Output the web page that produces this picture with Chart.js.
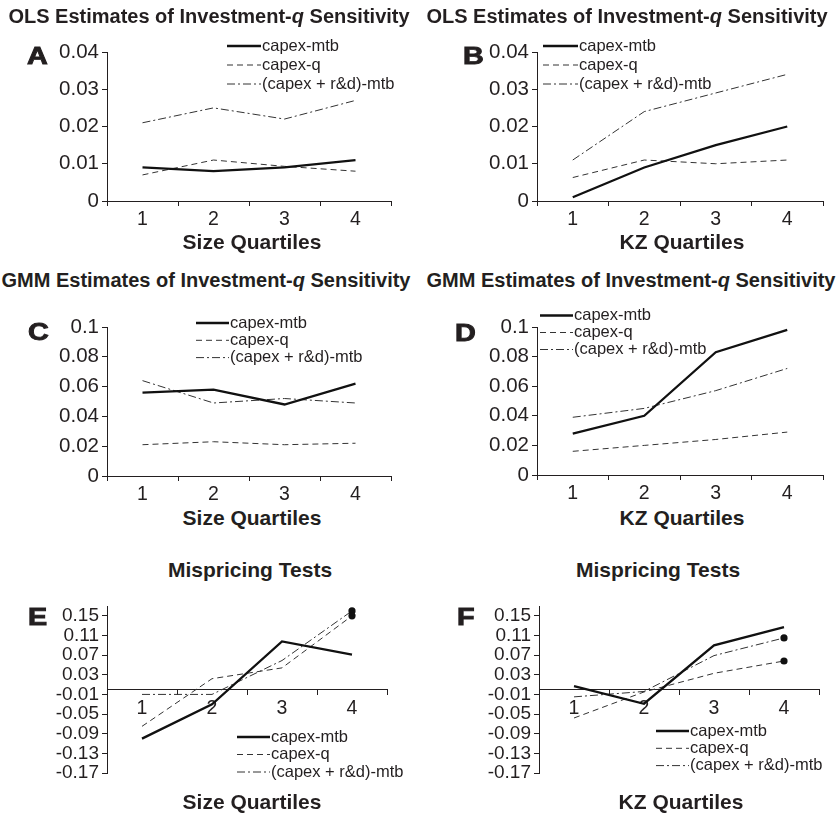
<!DOCTYPE html>
<html>
<head>
<meta charset="utf-8">
<script src="https://cdn.jsdelivr.net/npm/chart.js@4.4.1/dist/chart.umd.min.js"></script>
<style>
  html, body { margin: 0; padding: 0; background: #fff; }
  body { width: 840px; height: 813px; position: relative; overflow: hidden;
         font-family: "Liberation Sans", Arial, sans-serif; color: #231f20; }
  canvas { position: absolute; }
  .txt { position: absolute; white-space: nowrap; line-height: 1; transform: translate(-50%, -50%); }
  .ttl { font-weight: bold; font-size: 20px; }
  .axt { font-weight: bold; font-size: 21px; }
  .let { position: absolute; white-space: nowrap; line-height: 1; font-weight: bold; font-size: 23px;
         -webkit-text-stroke: 0.9px #231f20;
         transform: translate(0, -50%) scaleX(1.25); transform-origin: left center; }
</style>
</head>
<body>

<canvas id="cA" width="420" height="210" style="left:0;top:25px"></canvas>
<canvas id="cB" width="420" height="210" style="left:420px;top:25px"></canvas>
<canvas id="cC" width="420" height="205" style="left:0;top:300px"></canvas>
<canvas id="cD" width="420" height="205" style="left:420px;top:300px"></canvas>
<canvas id="cE" width="420" height="200" style="left:0;top:590px"></canvas>
<canvas id="cF" width="420" height="200" style="left:420px;top:590px"></canvas>

<!-- titles -->
<div class="txt ttl" style="left:209px;top:16px">OLS Estimates of Investment-<i>q</i> Sensitivity</div>
<div class="txt ttl" style="left:627px;top:16px">OLS Estimates of Investment-<i>q</i> Sensitivity</div>
<div class="txt ttl" style="left:206px;top:280px">GMM Estimates of Investment-<i>q</i> Sensitivity</div>
<div class="txt ttl" style="left:631px;top:280px">GMM Estimates of Investment-<i>q</i> Sensitivity</div>
<div class="txt axt" style="left:250px;top:569px">Mispricing Tests</div>
<div class="txt axt" style="left:658px;top:569px">Mispricing Tests</div>

<!-- axis titles -->
<div class="txt axt" style="left:252px;top:241px">Size Quartiles</div>
<div class="txt axt" style="left:682px;top:241px">KZ Quartiles</div>
<div class="txt axt" style="left:252px;top:517px">Size Quartiles</div>
<div class="txt axt" style="left:682px;top:517px">KZ Quartiles</div>
<div class="txt axt" style="left:252px;top:801px">Size Quartiles</div>
<div class="txt axt" style="left:681px;top:801px">KZ Quartiles</div>

<!-- panel letters -->
<div class="let" style="left:27px;top:56px">A</div>
<div class="let" style="left:463px;top:56px">B</div>
<div class="let" style="left:28px;top:332px">C</div>
<div class="let" style="left:455px;top:333px">D</div>
<div class="let" style="left:28px;top:617px">E</div>
<div class="let" style="left:457px;top:617px">F</div>

<script>
// 数据：四分位组
const quartiles = ['1', '2', '3', '4'];
const seriesNames = ['capex-mtb', 'capex-q', '(capex + r&d)-mtb'];

// A: OLS, size quartiles
const olsSizeMtb = [0.009, 0.008, 0.009, 0.011];
const olsSizeQ   = [0.007, 0.011, 0.0093, 0.008];
const olsSizeRd  = [0.021, 0.025, 0.022, 0.027];
// B: OLS, KZ quartiles
const olsKzMtb = [0.001, 0.009, 0.015, 0.020];
const olsKzQ   = [0.0063, 0.011, 0.010, 0.011];
const olsKzRd  = [0.011, 0.024, 0.029, 0.034];
// C: GMM, size quartiles
const gmmSizeMtb = [0.056, 0.058, 0.048, 0.062];
const gmmSizeQ   = [0.021, 0.023, 0.021, 0.022];
const gmmSizeRd  = [0.064, 0.049, 0.052, 0.049];
// D: GMM, KZ quartiles
const gmmKzMtb = [0.028, 0.040, 0.083, 0.098];
const gmmKzQ   = [0.016, 0.020, 0.024, 0.029];
const gmmKzRd  = [0.039, 0.045, 0.057, 0.072];
// E: mispricing, size quartiles
const misSizeMtb = [-0.100, -0.030, 0.098, 0.071];
const misSizeQ   = [-0.075, 0.022, 0.044, 0.150];
const misSizeRd  = [-0.010, -0.010, 0.059, 0.160];
// F: mispricing, KZ quartiles
const misKzMtb = [0.007, -0.029, 0.090, 0.127];
const misKzQ   = [-0.058, -0.005, 0.033, 0.058];
const misKzRd  = [-0.015, -0.004, 0.069, 0.105];

// 显著性标记（第 4 组的实心点）
const misSizeMarkQ  = [0, 0, 0, 1];
const misSizeMarkRd = [0, 0, 0, 1];
const misKzMarkQ    = [0, 0, 0, 1];
const misKzMarkRd   = [0, 0, 0, 1];

// 坐标轴刻度
const olsTicks = [0, 0.01, 0.02, 0.03, 0.04];
const gmmTicks = [0, 0.02, 0.04, 0.06, 0.08, 0.1];
const misTicks = [-0.17, -0.13, -0.09, -0.05, -0.01, 0.03, 0.07, 0.11, 0.15];

const INK = '#231f20';
const FONT = '"Liberation Sans", Arial, sans-serif';
const YW = 60;   // y 轴宽度
const XH = 30;   // x 轴高度

// 图例：线段 + 文字，画在图内
const keyPlugin = {
    id: 'key',
    afterDraw(chart, args, opts) {
        if (!opts.at) return;
        const ctx = chart.ctx;
        ctx.save();
        ctx.font = '16.5px ' + FONT;
        ctx.textBaseline = 'middle';
        ctx.fillStyle = INK;
        chart.data.datasets.forEach((ds, i) => {
            const x = opts.at[0];
            const y = opts.at[1] + i * opts.gap;
            ctx.beginPath();
            ctx.setLineDash(ds.borderDash || []);
            ctx.lineWidth = ds.borderWidth;
            ctx.strokeStyle = ds.borderColor;
            ctx.moveTo(x, y);
            ctx.lineTo(x + opts.len, y);
            ctx.stroke();
            ctx.setLineDash([]);
            ctx.fillText(ds.label, x + opts.len + 1, y);
        });
        ctx.restore();
    }
};

function makeDatasets(mtb, q, rd, markQ, markRd) {
    const r = m => m ? m.map(v => v ? 3.6 : 0) : 0;
    return [
        { label: seriesNames[0], data: mtb, borderColor: '#111', borderWidth: 2.3, pointRadius: 0 },
        { label: seriesNames[1], data: q, borderColor: '#333', borderWidth: 1, borderDash: [6, 4],
          pointRadius: r(markQ), pointBackgroundColor: '#111', pointBorderWidth: 0 },
        { label: seriesNames[2], data: rd, borderColor: '#333', borderWidth: 1, borderDash: [8, 3, 2, 3],
          pointRadius: r(markRd), pointBackgroundColor: '#111', pointBorderWidth: 0 }
    ];
}

// box: 画布在页面上的位置 [left, top, w, h]；area: 绘图区 [left, top, right, bottom]
function makePanel(id, box, area, datasets, yTicks, yMin, yMax, opt) {
    const crossZero = !!opt.crossZero;
    const padding = {
        left: area[0] - box[0] - YW,
        top: area[1] - box[1],
        right: box[0] + box[2] - area[2],
        bottom: box[1] + box[3] - area[3] - (crossZero ? 0 : XH)
    };
    return new Chart(document.getElementById(id), {
        type: 'line',
        data: { labels: quartiles, datasets: datasets },
        options: {
            responsive: false,
            animation: false,
            events: [],
            layout: { padding: padding },
            elements: { line: { tension: 0 }, point: { hoverRadius: 0 } },
            plugins: {
                legend: { display: false },
                tooltip: { enabled: false },
                key: { at: [opt.key[0] - box[0], opt.key[1] - box[1]], gap: opt.gap, len: opt.len }
            },
            scales: {
                x: {
                    type: 'category',
                    position: crossZero ? { y: 0 } : 'bottom',
                    offset: true,
                    afterFit: s => { s.height = XH; },
                    grid: { offset: true, drawOnChartArea: false, drawTicks: true, tickLength: 5, color: INK },
                    border: { color: INK, width: 1 },
                    ticks: { color: INK, font: { family: FONT, size: 19.5 }, padding: 2,
                             maxRotation: 0, autoSkip: false }
                },
                y: {
                    min: yMin,
                    max: yMax,
                    afterFit: s => { s.width = YW; },
                    afterBuildTicks: s => { s.ticks = yTicks.map(v => ({ value: v })); },
                    grid: { drawOnChartArea: false, drawTicks: true, tickLength: 5, color: INK },
                    border: { color: INK, width: 1 },
                    ticks: { color: INK, font: { family: FONT, size: opt.yFont }, padding: 3,
                             autoSkip: false, callback: v => String(v) }
                }
            }
        },
        plugins: [keyPlugin]
    });
}

window.addEventListener('DOMContentLoaded', () => {
    makePanel('cA', [0, 25, 420, 210], [107, 52, 391, 201],
        makeDatasets(olsSizeMtb, olsSizeQ, olsSizeRd), olsTicks, 0, 0.04,
        { key: [227, 46], gap: 19, len: 34, yFont: 20.5 });
    makePanel('cB', [420, 25, 420, 210], [537, 52, 823, 201],
        makeDatasets(olsKzMtb, olsKzQ, olsKzRd), olsTicks, 0, 0.04,
        { key: [543, 46], gap: 19, len: 35, yFont: 20.5 });
    makePanel('cC', [0, 300, 420, 205], [107, 327, 391, 476],
        makeDatasets(gmmSizeMtb, gmmSizeQ, gmmSizeRd), gmmTicks, 0, 0.1,
        { key: [196, 323], gap: 17.3, len: 33, yFont: 20.5 });
    makePanel('cD', [420, 300, 420, 205], [537, 327, 823, 475],
        makeDatasets(gmmKzMtb, gmmKzQ, gmmKzRd), gmmTicks, 0, 0.1,
        { key: [540, 315.5], gap: 17, len: 33, yFont: 20.5 });
    makePanel('cE', [0, 590, 420, 200], [107, 606, 387, 773],
        makeDatasets(misSizeMtb, misSizeQ, misSizeRd, misSizeMarkQ, misSizeMarkRd), misTicks, -0.17, 0.17,
        { key: [237, 737], gap: 17.5, len: 33, yFont: 19, crossZero: true });
    makePanel('cF', [420, 590, 420, 200], [539, 606, 819, 773],
        makeDatasets(misKzMtb, misKzQ, misKzRd, misKzMarkQ, misKzMarkRd), misTicks, -0.17, 0.17,
        { key: [656, 731], gap: 17.3, len: 33, yFont: 19, crossZero: true });
});
</script>
</body>
</html>
